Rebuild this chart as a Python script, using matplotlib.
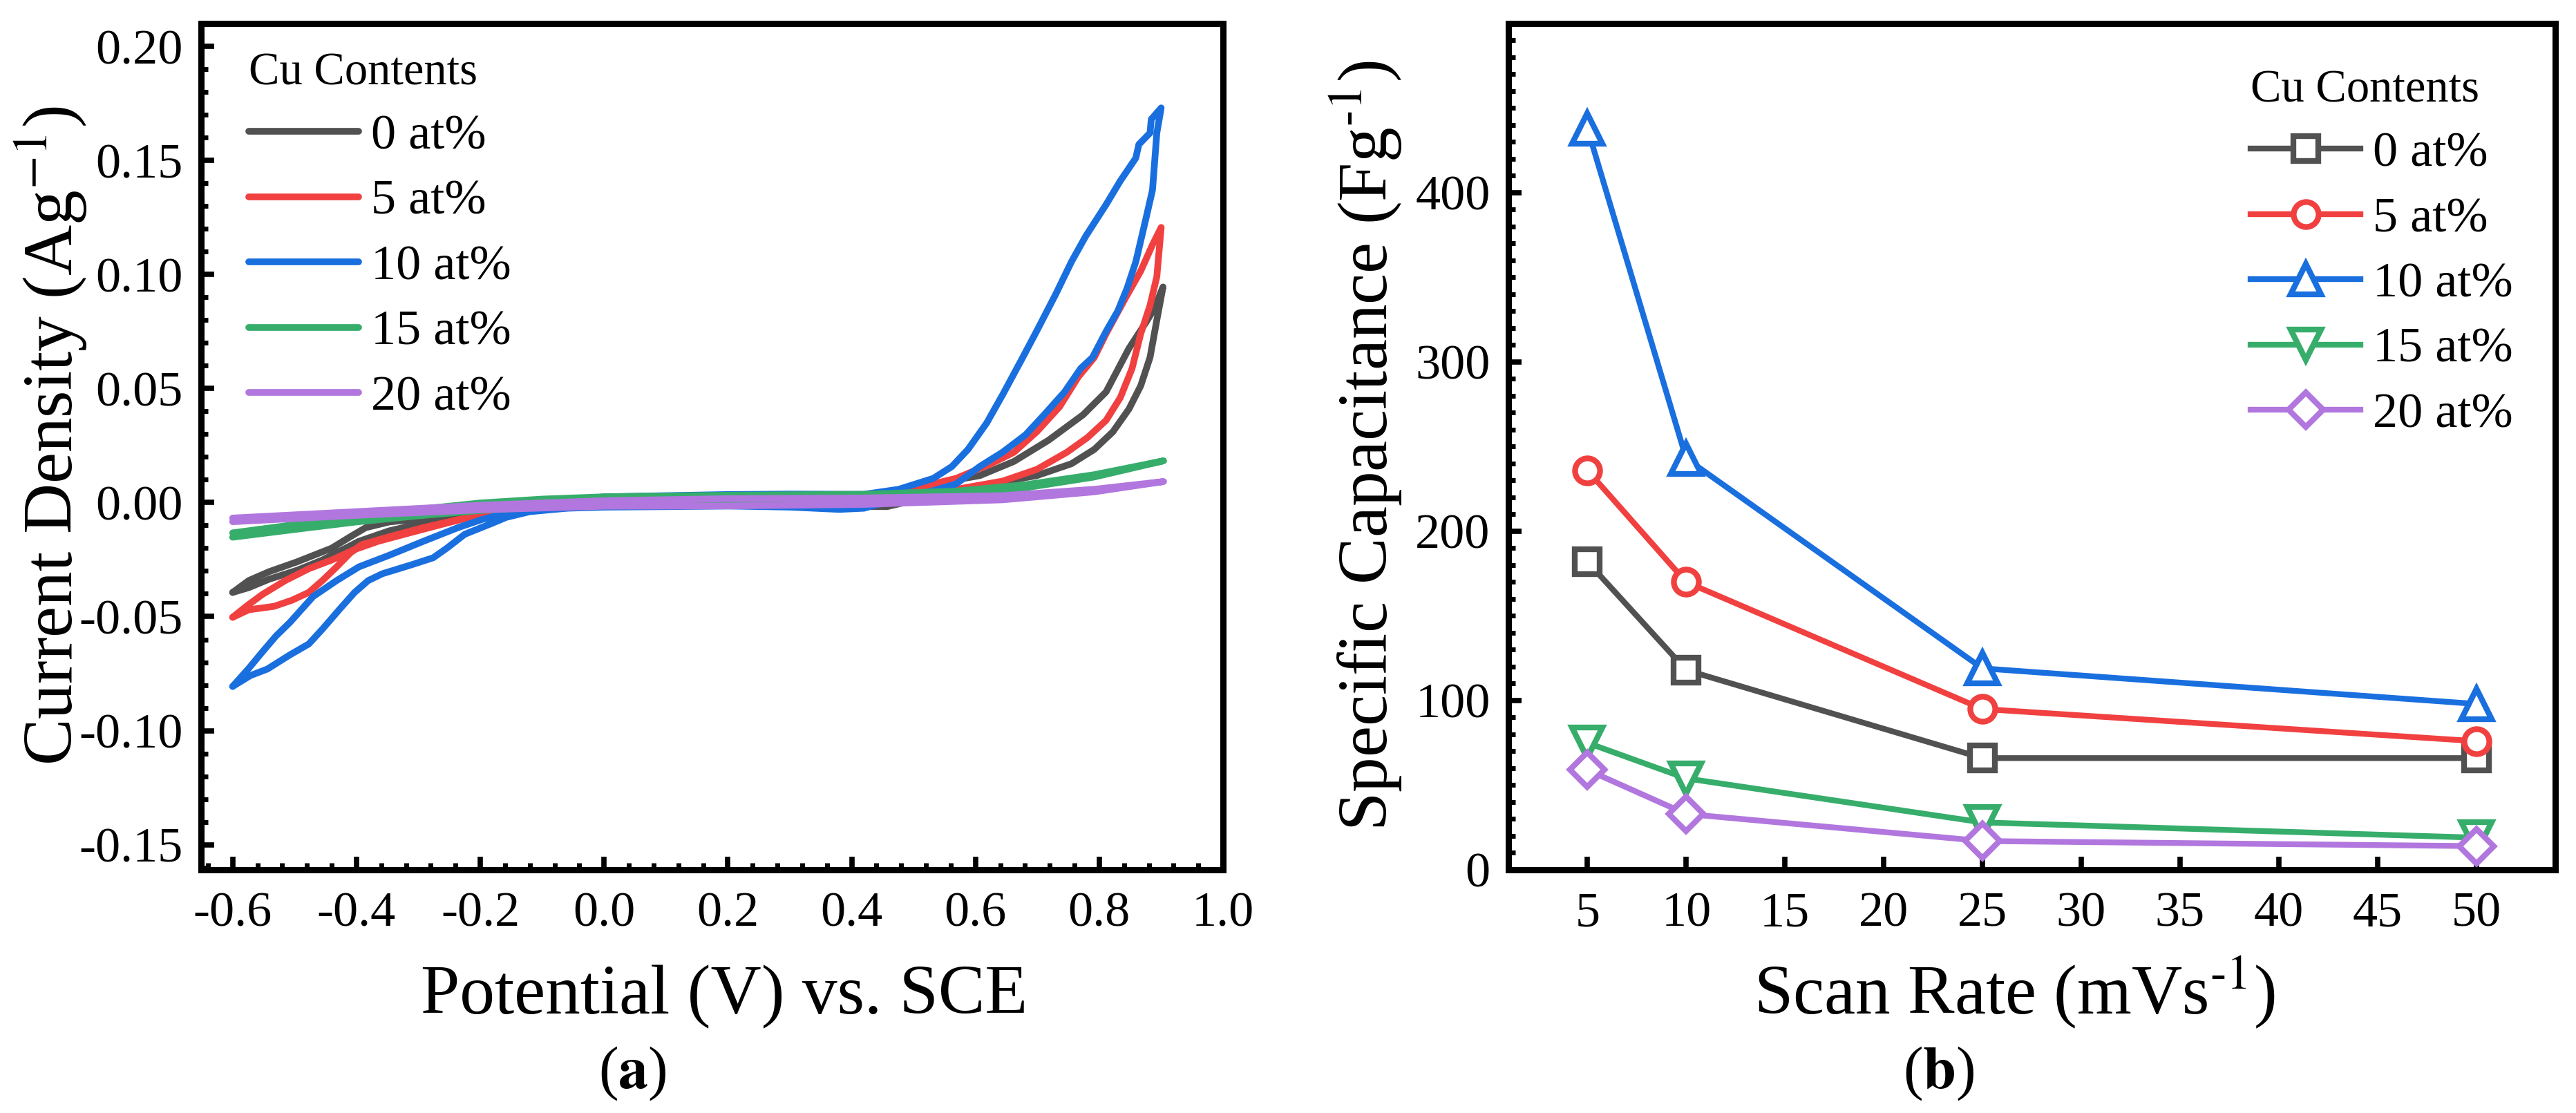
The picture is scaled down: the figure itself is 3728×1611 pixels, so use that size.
import matplotlib

matplotlib.use("Agg")
import matplotlib.pyplot as plt
from matplotlib.ticker import FixedLocator, FormatStrFormatter, MultipleLocator

SERIF = "Liberation Serif"
plt.rcParams["font.family"] = "serif"
plt.rcParams["font.serif"] = [SERIF, "DejaVu Serif"]
plt.rcParams["mathtext.fontset"] = "stix"
plt.rcParams["axes.unicode_minus"] = False

labels = ["0 at%", "5 at%", "10 at%", "15 at%", "20 at%"]
colors = ["#515151", "#F14040", "#1A6FDF", "#37AD6B", "#B177DE"]
markers = ["s", "o", "^", "v", "D"]
marker_sizes = [26, 26, 31, 31, 25]

# (a) CV loops: forward scan -0.6 -> 0.9 V, then back
v_0 = [-0.600, -0.574, -0.541, -0.496, -0.440, -0.410, -0.385, -0.347, -0.292, -0.200,
       -0.120, -0.050, 0.000, 0.100, 0.200, 0.300, 0.420, 0.480, 0.532, 0.607,
       0.662, 0.718, 0.774, 0.811, 0.848, 0.875, 0.889, 0.903,
       0.893, 0.882, 0.867, 0.848, 0.822, 0.792, 0.755, 0.699, 0.625, 0.532,
       0.457, 0.350, 0.200, 0.000, -0.100, -0.200, -0.254, -0.292, -0.347, -0.396,
       -0.426, -0.455, -0.496, -0.541, -0.574, -0.600]
j_0 = [-0.0394, -0.0342, -0.0303, -0.0260, -0.0200, -0.0150, -0.0110, -0.0085, -0.0070, -0.0030,
       0.0000, 0.0015, 0.0020, 0.0025, 0.0030, 0.0030, 0.0032, 0.0050, 0.0082, 0.0118,
       0.0180, 0.0273, 0.0385, 0.0485, 0.0676, 0.0788, 0.0850, 0.0945,
       0.0800, 0.0636, 0.0512, 0.0410, 0.0310, 0.0233, 0.0170, 0.0118, 0.0082, 0.0030,
       -0.0018, -0.0015, -0.0010, -0.0010, -0.0020, -0.0040, -0.0070, -0.0090, -0.0124, -0.0170,
       -0.0212, -0.0252, -0.0297, -0.0336, -0.0373, -0.0394]

v_5 = [-0.600, -0.578, -0.552, -0.515, -0.477, -0.440, -0.403, -0.365, -0.310, -0.254,
       -0.225, -0.180, -0.120, -0.050, 0.000, 0.100, 0.200, 0.300, 0.420, 0.495,
       0.569, 0.625, 0.662, 0.699, 0.736, 0.766, 0.792, 0.811, 0.841, 0.867,
       0.886, 0.900,
       0.893, 0.882, 0.867, 0.853, 0.834, 0.811, 0.781, 0.748, 0.699, 0.644,
       0.569, 0.495, 0.420, 0.300, 0.200, 0.100, 0.000, -0.100, -0.180, -0.236,
       -0.292, -0.347, -0.392, -0.410, -0.432, -0.455, -0.477, -0.504, -0.533, -0.574,
       -0.600]
j_5 = [-0.0503, -0.0455, -0.0403, -0.0342, -0.0290, -0.0252, -0.0206, -0.0170, -0.0130, -0.0090,
       -0.0070, -0.0040, -0.0010, 0.0010, 0.0020, 0.0025, 0.0030, 0.0030, 0.0032, 0.0058,
       0.0106, 0.0170, 0.0220, 0.0310, 0.0420, 0.0550, 0.0636, 0.0740, 0.0890, 0.1015,
       0.1130, 0.1206,
       0.0990, 0.0864, 0.0740, 0.0588, 0.0460, 0.0360, 0.0285, 0.0221, 0.0145, 0.0094,
       0.0058, 0.0018, -0.0018, -0.0015, -0.0010, -0.0010, -0.0015, -0.0030, -0.0055, -0.0075,
       -0.0110, -0.0150, -0.0185, -0.0221, -0.0282, -0.0342, -0.0394, -0.0428, -0.0455, -0.0470,
       -0.0503]

v_10 = [-0.600, -0.574, -0.552, -0.530, -0.507, -0.470, -0.432, -0.396, -0.347, -0.292,
        -0.236, -0.198, -0.150, -0.100, -0.050, 0.000, 0.100, 0.200, 0.300, 0.420,
        0.476, 0.532, 0.562, 0.588, 0.618, 0.644, 0.674, 0.699, 0.730, 0.755,
        0.778, 0.811, 0.834, 0.859, 0.864, 0.882, 0.884, 0.900,
        0.893, 0.886, 0.875, 0.859, 0.845, 0.830, 0.811, 0.789, 0.770, 0.744,
        0.711, 0.681, 0.644, 0.607, 0.569, 0.532, 0.476, 0.420, 0.380, 0.300,
        0.200, 0.100, 0.000, -0.060, -0.120, -0.158, -0.180, -0.225, -0.254, -0.276,
        -0.310, -0.358, -0.381, -0.403, -0.426, -0.455, -0.477, -0.507, -0.544, -0.571,
        -0.600]
j_10 = [-0.0806, -0.0727, -0.0655, -0.0585, -0.0524, -0.0412, -0.0342, -0.0282, -0.0231, -0.0170,
        -0.0110, -0.0075, -0.0040, -0.0010, 0.0012, 0.0025, 0.0030, 0.0035, 0.0037, 0.0036,
        0.0058, 0.0106, 0.0158, 0.0233, 0.0348, 0.0473, 0.0624, 0.0752, 0.0915, 0.1055,
        0.1167, 0.1306, 0.1410, 0.1510, 0.1570, 0.1620, 0.1680, 0.1730,
        0.1620, 0.1370, 0.1240, 0.1055, 0.0940, 0.0840, 0.0750, 0.0636, 0.0588, 0.0485,
        0.0385, 0.0297, 0.0221, 0.0158, 0.0082, 0.0052, 0.0018, -0.0025, -0.0030, -0.0020,
        -0.0015, -0.0018, -0.0020, -0.0025, -0.0040, -0.0065, -0.0090, -0.0139, -0.0200, -0.0242,
        -0.0272, -0.0312, -0.0342, -0.0394, -0.0464, -0.0555, -0.0620, -0.0667, -0.0730, -0.0758,
        -0.0806]

v_15 = [-0.600, -0.500, -0.400, -0.300, -0.200, -0.100, 0.000, 0.200, 0.420, 0.569,
        0.681, 0.792, 0.904,
        0.792, 0.681, 0.569, 0.420, 0.200, 0.000, -0.100, -0.200, -0.300, -0.400, -0.500,
        -0.600]
j_15 = [-0.0133, -0.0097, -0.0062, -0.0030, -0.0002, 0.0015, 0.0025, 0.0032, 0.0036, 0.0050,
        0.0078, 0.0122, 0.0183,
        0.0112, 0.0065, 0.0033, 0.0012, 0.0004, -0.0006, -0.0018, -0.0035, -0.0058, -0.0085, -0.0118,
        -0.0152]

v_20 = [-0.600, -0.400, -0.200, 0.000, 0.200, 0.420, 0.644, 0.792, 0.904,
        0.792, 0.644, 0.420, 0.200, 0.000, -0.200, -0.400, -0.600]
j_20 = [-0.0068, -0.0040, -0.0012, 0.0008, 0.0017, 0.0020, 0.0030, 0.0058, 0.0092,
        0.0047, 0.0012, -0.0008, -0.0015, -0.0016, -0.0032, -0.0056, -0.0084]

# (b) specific capacitance
scan_rates = [5, 10, 25, 50]
cap_0 = [182, 118, 66, 66]
cap_5 = [236, 170, 95, 76]
cap_10 = [438, 243, 119, 98]
cap_15 = [75, 54, 28, 19]
cap_20 = [59, 33, 17, 14]
cap_ticks = [0, 100, 200, 300, 400]

cv_v = [v_0, v_5, v_10, v_15, v_20]
cv_j = [j_0, j_5, j_10, j_15, j_20]
caps = [cap_0, cap_5, cap_10, cap_15, cap_20]

text_kw = dict(fontfamily=SERIF, math_fontfamily="stix")


def style_axes(ax):
    for spine in ax.spines.values():
        spine.set_linewidth(6.5)
    ax.tick_params(which="both", direction="in", top=False, right=False,
                   labelsize=52, labelfontfamily=SERIF)
    ax.tick_params(which="major", length=14, width=5.5)
    ax.tick_params(which="minor", length=7, width=5)
    ax.tick_params(axis="x", which="both", pad=23)
    ax.tick_params(axis="y", which="both", pad=19)


def add_legend(ax, x, y):
    ax.legend(
        loc="upper left",
        bbox_to_anchor=(x, y),
        frameon=False,
        title="Cu Contents",
        prop={"family": SERIF, "size": 52},
        title_fontproperties={"family": SERIF, "size": 48},
        alignment="left",
        borderpad=0,
        borderaxespad=0,
        handlelength=2.2,
        handletextpad=0.25,
        labelspacing=0.4,
    )


fig = plt.figure(figsize=(37.28, 16.11), dpi=100)
ax1 = fig.add_axes([0.07806, 0.2185, 0.39673, 0.7604])
ax2 = fig.add_axes([0.58557, 0.2185, 0.40638, 0.7604])

for v, j, lab, col in zip(cv_v, cv_j, labels, colors):
    ax1.plot(v, j, color=col, lw=7, label=lab, solid_capstyle="round", solid_joinstyle="round")

ax1.set_xlim(-0.651, 1.0)
ax1.set_ylim(-0.161, 0.21)
ax1.xaxis.set_major_locator(MultipleLocator(0.2))
ax1.xaxis.set_minor_locator(MultipleLocator(0.04))
ax1.yaxis.set_major_locator(MultipleLocator(0.05))
ax1.yaxis.set_minor_locator(MultipleLocator(0.01))
ax1.xaxis.set_major_formatter(FormatStrFormatter("%.1f"))
ax1.yaxis.set_major_formatter(FormatStrFormatter("%.2f"))
style_axes(ax1)
ax1.set_xlabel("Potential (V) vs. SCE", fontsize=73, va="baseline", **text_kw)
ax1.xaxis.set_label_coords(0.512, -0.170)
ax1.set_ylabel("Current Density (Ag$^{-1}$)", fontsize=73, va="baseline", **text_kw)
ax1.yaxis.set_label_coords(-0.126, 0.513)
add_legend(ax1, 0.0467, 0.9665)

for cap, lab, col, mk, ms in zip(caps, labels, colors, markers, marker_sizes):
    ax2.plot(scan_rates, cap, color=col, lw=6.0, marker=mk, ms=ms, mfc="white",
             mec=col, mew=6.0, label=lab)

ax2.set_xlim(1, 54)
ax2.set_ylim(0, 500)
ax2.set_xticks(range(5, 51, 5))
ax2.yaxis.set_major_locator(FixedLocator(cap_ticks))
ax2.yaxis.set_minor_locator(MultipleLocator(10))
style_axes(ax2)
ax2.set_xlabel(r"Scan Rate (mVs$^{\text{-1}}$)", fontsize=73, va="baseline", **text_kw)
ax2.xaxis.set_label_coords(0.4835, -0.170)
ax2.set_ylabel(r"Specific Capacitance (Fg$^{\text{-1}}$)", fontsize=73, va="baseline", **text_kw)
ax2.yaxis.set_label_coords(-0.1155, 0.501)
add_legend(ax2, 0.709, 0.946)

fig.text(0.2454, 0.0348, r"($\mathbf{a}$)", fontsize=62, ha="center", va="center", **text_kw)
fig.text(0.7527, 0.0348, r"($\mathbf{b}$)", fontsize=62, ha="center", va="center", **text_kw)

fig.savefig("out.png", dpi=100)
